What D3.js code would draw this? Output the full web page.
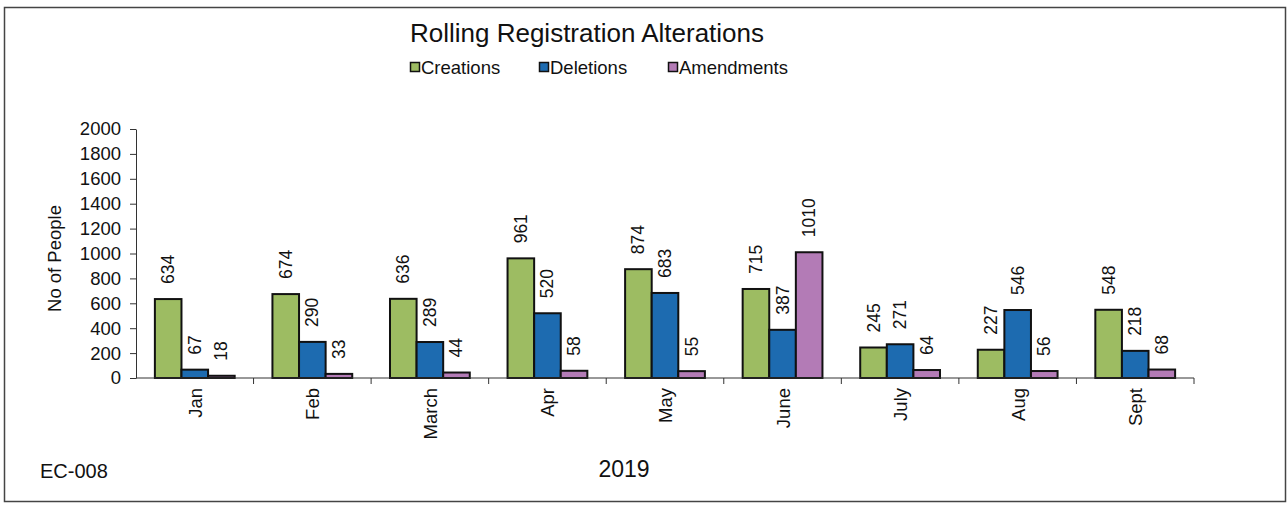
<!DOCTYPE html>
<html>
<head>
<meta charset="utf-8">
<script src="https://cdn.jsdelivr.net/npm/d3@7/dist/d3.min.js"></script>
<style>
  html, body { margin: 0; padding: 0; background: #ffffff; }
  svg { display: block; }
  text { font-family: "Liberation Sans", Arial, sans-serif; fill: #111; }
</style>
</head>
<body>
<svg id="chart" width="1288" height="506"></svg>
<script>
const months = ["Jan", "Feb", "March", "Apr", "May", "June", "July", "Aug", "Sept"];
const seriesNames = ["Creations", "Deletions", "Amendments"];
const creations = [634, 674, 636, 961, 874, 715, 245, 227, 548];
const deletions = [67, 290, 289, 520, 683, 387, 271, 546, 218];
const amendments = [18, 33, 44, 58, 55, 1010, 64, 56, 68];
const yTicks = [0, 200, 400, 600, 800, 1000, 1200, 1400, 1600, 1800, 2000];
const colors = ["#9dbc62", "#1d6bb0", "#b37bb6"];

(function () {
const seriesValues = [creations, deletions, amendments];
const rows = months.map((m, i) => ({
  month: m,
  values: seriesNames.map((s, j) => ({ series: s, value: seriesValues[j][i], idx: j }))
}));

const svg = d3.select("#chart");

// border
svg.append("rect")
  .attr("x", 4.5).attr("y", 7.5)
  .attr("width", 1281).attr("height", 494)
  .attr("fill", "#fff").attr("stroke", "#444").attr("stroke-width", 1.5);

const pLeft = 136, pRight = 1194, pTop = 129, pBottom = 378;

const x0 = d3.scaleBand().domain(months).range([pLeft, pRight]).paddingInner(0).paddingOuter(0);
const x1 = d3.scaleBand().domain(seriesNames).range([0, x0.bandwidth()])
  .paddingInner(0).paddingOuter(0.71);
const y = d3.scaleLinear().domain([0, 2000]).range([pBottom, pTop]);
const color = d3.scaleOrdinal().domain(seriesNames).range(colors);

// title
svg.append("text")
  .attr("x", 587).attr("y", 42)
  .attr("text-anchor", "middle")
  .style("font-size", "26px")
  .text("Rolling Registration Alterations");

// legend
const legendX = [410, 539, 668];
const legend = svg.append("g");
seriesNames.forEach((s, i) => {
  const g = legend.append("g").attr("transform", `translate(${legendX[i]},0)`);
  g.append("rect").attr("x", 0.5).attr("y", 62.5).attr("width", 9).attr("height", 9)
    .attr("fill", color(s)).attr("stroke", "#111").attr("stroke-width", 1.5);
  g.append("text").attr("x", 11).attr("y", 74)
    .style("font-size", "18.5px").text(s);
});

// y axis
const yAxis = d3.axisLeft(y).tickValues(yTicks).tickFormat(d3.format("d"))
  .tickSize(6).tickPadding(9).tickSizeOuter(0);
const gy = svg.append("g").attr("transform", `translate(${pLeft},0)`).call(yAxis);
gy.selectAll("text").style("font-size", "18.5px").style("font-family", "Liberation Sans, Arial, sans-serif").attr("fill", "#111");
gy.selectAll("line, path").attr("stroke", "#333");

// y axis title
svg.append("text")
  .attr("transform", `translate(61,${(pTop + pBottom) / 2 + 5}) rotate(-90)`)
  .attr("text-anchor", "middle")
  .style("font-size", "18.5px")
  .text("No of People");

// bars
const groups = svg.append("g").selectAll("g").data(rows).join("g")
  .attr("transform", d => `translate(${x0(d.month)},0)`);

groups.selectAll("rect").data(d => d.values).join("rect")
  .attr("x", d => x1(d.series))
  .attr("y", d => y(d.value))
  .attr("width", x1.bandwidth())
  .attr("height", d => y(0) - y(d.value))
  .attr("fill", d => color(d.series))
  .attr("stroke", "#111")
  .attr("stroke-width", 2);

// data labels
groups.selectAll("text.val").data(d => d.values).join("text")
  .attr("class", "val")
  .attr("transform", d => `translate(${x1(d.series) + x1.bandwidth() / 2 + 6},${y(d.value) - 15}) rotate(-90)`)
  .attr("text-anchor", "start")
  .style("font-size", "17.5px")
  .text(d => d.value);

// x axis
const xTickPositions = d3.range(months.length + 1).map(i => pLeft + i * x0.step());
const gx = svg.append("g");
gx.append("line").attr("x1", pLeft).attr("x2", pRight).attr("y1", pBottom).attr("y2", pBottom)
  .attr("stroke", "#333").attr("stroke-width", 1);
gx.selectAll("line.tick").data(xTickPositions.slice(1)).join("line")
  .attr("class", "tick")
  .attr("x1", d => d).attr("x2", d => d)
  .attr("y1", pBottom).attr("y2", pBottom + 6)
  .attr("stroke", "#333");

gx.selectAll("text.cat").data(months).join("text")
  .attr("class", "cat")
  .attr("transform", d => `translate(${x0(d) + x0.bandwidth() / 2 + 7},388) rotate(-90)`)
  .attr("text-anchor", "end")
  .style("font-size", "18.5px")
  .text(d => d);

// x axis title
svg.append("text")
  .attr("x", 624).attr("y", 477)
  .attr("text-anchor", "middle")
  .style("font-size", "23px")
  .text("2019");

// footnote
svg.append("text")
  .attr("x", 40).attr("y", 478)
  .style("font-size", "20px")
  .text("EC-008");
})();
</script>
</body>
</html>
